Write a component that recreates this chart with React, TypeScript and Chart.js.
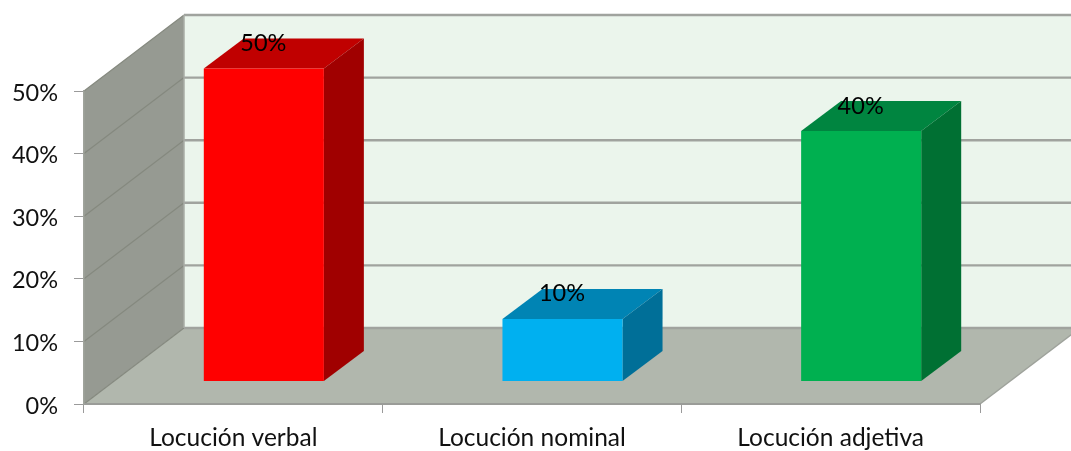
import React, { useEffect, useRef } from "react";
import { Chart, registerables } from "chart.js";

Chart.register(...registerables);

const categories = ["Locución verbal", "Locución nominal", "Locución adjetiva"];
const percentages = [50, 10, 40];
const yTicksMax = 50;
const yTickStep = 10;

const frontColors = ["#FF0000", "#00B0F0", "#00B050"];
const topColors = ["#C00000", "#0084B4", "#008540"];
const sideColors = ["#A00000", "#006F98", "#007033"];

const FONT = "Lato, 'Noto Sans', sans-serif";
const WALL_DX = 100;
const WALL_DY = -76;
const BAR_DX = 30.5;
const BAR_DY = -22.5;
const DEPTH_DX = 40;
const DEPTH_DY = -30;

function poly(ctx: CanvasRenderingContext2D, pts: number[][], fill: string) {
  ctx.beginPath();
  pts.forEach((p, i) => (i ? ctx.lineTo(p[0], p[1]) : ctx.moveTo(p[0], p[1])));
  ctx.closePath();
  ctx.fillStyle = fill;
  ctx.fill();
}

function line(ctx: CanvasRenderingContext2D, x0: number, y0: number, x1: number, y1: number, color: string, w: number) {
  ctx.beginPath();
  ctx.moveTo(x0, y0);
  ctx.lineTo(x1, y1);
  ctx.strokeStyle = color;
  ctx.lineWidth = w;
  ctx.stroke();
}

const walls = {
  id: "walls",
  beforeDraw(chart: any) {
    const { ctx, scales } = chart;
    const l = scales.x.left;
    const r = scales.x.right;
    const y0 = scales.y.getPixelForValue(0);
    const yT = scales.y.getPixelForValue(yTicksMax);
    ctx.save();
    // back wall
    poly(ctx, [[l + WALL_DX, yT + WALL_DY], [r + WALL_DX, yT + WALL_DY], [r + WALL_DX, y0 + WALL_DY], [l + WALL_DX, y0 + WALL_DY]], "#EBF5EC");
    // left wall
    poly(ctx, [[l, y0], [l, yT], [l + WALL_DX, yT + WALL_DY], [l + WALL_DX, y0 + WALL_DY]], "#969A92");
    // floor
    poly(ctx, [[l, y0], [l + WALL_DX, y0 + WALL_DY], [r + WALL_DX, y0 + WALL_DY], [r, y0]], "#B1B7AD");
    // gridlines
    scales.y.ticks.forEach((t: any) => {
      const y = scales.y.getPixelForValue(t.value);
      line(ctx, l, y, l + WALL_DX, y + WALL_DY, "#85897F", 1.2);
      line(ctx, l + WALL_DX, y + WALL_DY, r + WALL_DX, y + WALL_DY, "#A0A39E", 2.4);
    });
    line(ctx, l + WALL_DX, yT + WALL_DY, l + WALL_DX, y0 + WALL_DY, "#A9ADA6", 1.5);
    line(ctx, r, y0, r + WALL_DX, y0 + WALL_DY, "#9EA29B", 1.5);
    ctx.restore();
  },
  beforeDatasetsDraw(chart: any) {
    const { ctx } = chart;
    ctx.save();
    ctx.translate(BAR_DX, BAR_DY);
    chart.getDatasetMeta(0).data.forEach((b: any, i: number) => {
      const L = b.x - b.width / 2;
      const R = b.x + b.width / 2;
      poly(ctx, [[L, b.y], [R, b.y], [R + DEPTH_DX, b.y + DEPTH_DY], [L + DEPTH_DX, b.y + DEPTH_DY]], topColors[i]);
      poly(ctx, [[R, b.y], [R + DEPTH_DX, b.y + DEPTH_DY], [R + DEPTH_DX, b.base + DEPTH_DY], [R, b.base]], sideColors[i]);
    });
  },
  afterDatasetsDraw(chart: any) {
    const { ctx } = chart;
    ctx.restore();
    ctx.save();
    ctx.fillStyle = "#000";
    ctx.font = `23.5px ${FONT}`;
    ctx.textAlign = "center";
    ctx.textBaseline = "middle";
    chart.getDatasetMeta(0).data.forEach((b: any, i: number) => {
      ctx.fillText(`${percentages[i]}%`, b.x + BAR_DX - 0.5, b.y + BAR_DY - 25);
    });
    ctx.restore();
  },
};

export default function App() {
  const ref = useRef<HTMLCanvasElement>(null);
  useEffect(() => {
    const chart = new Chart(ref.current!, {
      type: "bar",
      data: {
        labels: categories,
        datasets: [
          {
            data: percentages,
            backgroundColor: frontColors,
            borderWidth: 0,
            categoryPercentage: 1,
            barPercentage: 0.402,
            clip: false,
          } as any,
        ],
      },
      plugins: [walls],
      options: {
        responsive: false,
        animation: false,
        layout: { padding: { top: 91, right: 91, left: 0, bottom: 0 }, autoPadding: false } as any,
        plugins: { legend: { display: false }, tooltip: { enabled: false } },
        scales: {
          x: {
            afterFit: (s: any) => {
              s.height = 47;
            },
            grid: { drawOnChartArea: false, drawTicks: true, tickLength: 9, color: "#9A9A9A", offset: true },
            border: { display: true, color: "#9A9C98", width: 2 },
            ticks: { color: "#111", font: { family: FONT, size: 24.5 }, padding: 10, maxRotation: 0 },
          },
          y: {
            min: 0,
            max: yTicksMax,
            afterFit: (s: any) => {
              s.width = 84;
            },
            grid: { drawOnChartArea: false, drawTicks: true, tickLength: 10, color: "#9A9A9A" },
            border: { display: true, color: "#A0A49C", width: 1.5 },
            ticks: {
              stepSize: yTickStep,
              color: "#111",
              font: { family: FONT, size: 23.5 },
              padding: 16,
              labelOffset: 2,
              callback: (v: any) => `${v}%`,
            },
          },
        },
      },
    });
    return () => chart.destroy();
  }, []);
  return (
    <div style={{ position: "absolute", left: 0, top: 0, width: 1071, height: 451, background: "#fff" }}>
      <canvas ref={ref} width={1071} height={451} style={{ display: "block" }} />
    </div>
  );
}
